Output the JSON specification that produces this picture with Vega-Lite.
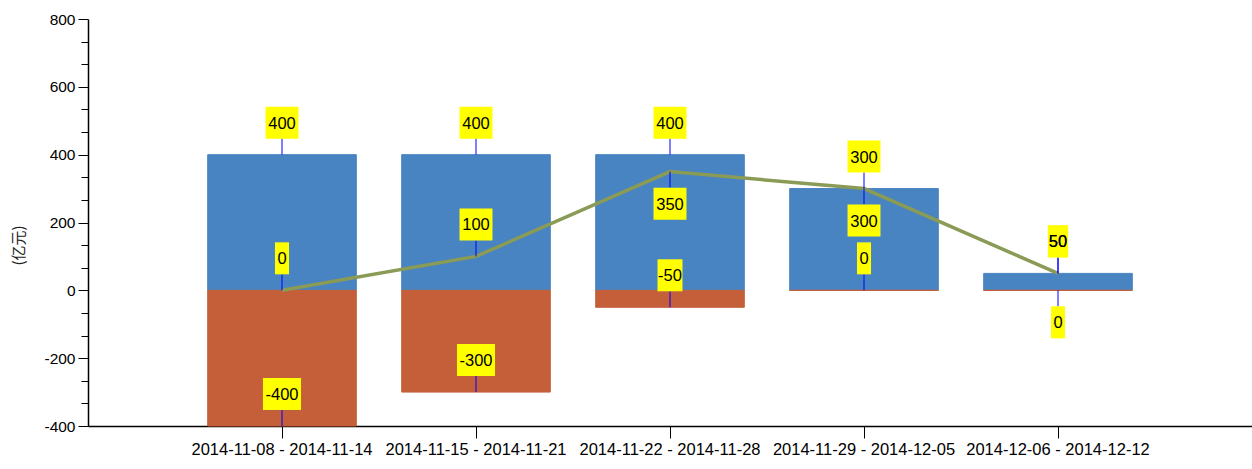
{
  "$schema": "https://vega.github.io/schema/vega-lite/v6.json",
  "width": 1164,
  "height": 407,
  "autosize": {"type": "none"},
  "padding": {"left": 88, "top": 19, "right": 0, "bottom": 43},
  "background": "white",
  "config": {"view": {"stroke": null}},
  "data": {
    "values": [
      {"week": "2014-11-08 - 2014-11-14", "series": "inflow", "value": 400},
      {"week": "2014-11-15 - 2014-11-21", "series": "inflow", "value": 400},
      {"week": "2014-11-22 - 2014-11-28", "series": "inflow", "value": 400},
      {"week": "2014-11-29 - 2014-12-05", "series": "inflow", "value": 300},
      {"week": "2014-12-06 - 2014-12-12", "series": "inflow", "value": 50},
      {"week": "2014-11-08 - 2014-11-14", "series": "outflow", "value": -400},
      {"week": "2014-11-15 - 2014-11-21", "series": "outflow", "value": -300},
      {"week": "2014-11-22 - 2014-11-28", "series": "outflow", "value": -50},
      {"week": "2014-11-29 - 2014-12-05", "series": "outflow", "value": 0},
      {"week": "2014-12-06 - 2014-12-12", "series": "outflow", "value": 0},
      {"week": "2014-11-08 - 2014-11-14", "series": "net", "value": 0},
      {"week": "2014-11-15 - 2014-11-21", "series": "net", "value": 100},
      {"week": "2014-11-22 - 2014-11-28", "series": "net", "value": 350},
      {"week": "2014-11-29 - 2014-12-05", "series": "net", "value": 300},
      {"week": "2014-12-06 - 2014-12-12", "series": "net", "value": 50}
    ]
  },
  "transform": [
    {"calculate": "(datum.series == 'net' && (datum.week == '2014-11-22 - 2014-11-28' || datum.week == '2014-11-29 - 2014-12-05')) || (datum.series == 'outflow' && datum.week == '2014-12-06 - 2014-12-12')", "as": "below"},
    {"calculate": "'' + datum.value", "as": "label"}
  ],
  "resolve": {"axis": {"y": "independent"}},
  "encoding": {
    "x": {
      "field": "week",
      "type": "nominal",
      "sort": null,
      "scale": {"paddingInner": 0.234, "paddingOuter": 0.617},
      "axis": {
        "title": null,
        "labelAngle": 0,
        "labelLimit": 0,
        "labelFont": "Liberation Sans",
        "labelFontSize": 16.5,
        "labelColor": "#000",
        "labelPadding": 3,
        "tickSize": 12,
        "tickColor": "#000",
        "domainColor": "#000",
        "domainWidth": 1.5,
        "tickWidth": 1
      }
    }
  },
  "layer": [
    {
      "transform": [{"filter": "datum.series != 'net'"}],
      "mark": {"type": "bar", "strokeWidth": 1},
      "encoding": {
        "y": {
          "field": "value",
          "type": "quantitative",
          "scale": {"domain": [-400, 800], "nice": false, "zero": false},
          "axis": {
            "orient": "left",
            "values": [-400, -200, 0, 200, 400, 600, 800],
            "labelExpr": "'' + datum.value",
            "grid": false,
            "title": "(亿元)",
            "titleFont": "Noto Sans CJK SC",
            "titleFontSize": 15,
            "titleFontWeight": "normal",
            "titleColor": "#222",
            "titleX": -70,
            "titleY": 226,
            "titleAngle": -90,
            "titleAlign": "center",
            "titleBaseline": "middle",
            "labelFont": "Liberation Sans",
            "labelFontSize": 15.5,
            "labelColor": "#000",
            "labelPadding": 3,
            "tickSize": 10,
            "tickColor": "#000",
            "domainColor": "#000",
            "domainWidth": 1.5
          }
        },
        "y2": {"datum": 0},
        "color": {
          "field": "series",
          "type": "nominal",
          "scale": {"domain": ["inflow", "outflow"], "range": ["#4883c2", "#c45f3a"]},
          "legend": null
        },
        "stroke": {
          "field": "series",
          "type": "nominal",
          "scale": {"domain": ["inflow", "outflow"], "range": ["#4883c2", "#c45f3a"]},
          "legend": null
        }
      }
    },
    {
      "transform": [{"filter": "datum.series != 'net'"}],
      "mark": {"type": "tick", "opacity": 0},
      "encoding": {
        "y": {
          "field": "value",
          "type": "quantitative",
          "axis": {
            "orient": "left",
            "values": [-333.33, -266.67, -133.33, -66.67, 66.67, 133.33, 266.67, 333.33, 466.67, 533.33, 666.67, 733.33],
            "labels": false,
            "domain": false,
            "grid": false,
            "title": null,
            "tickSize": 7,
            "tickColor": "#000"
          }
        }
      }
    },
    {
      "transform": [{"filter": "datum.series == 'net'"}],
      "mark": {"type": "line", "color": "#8a9b56", "strokeWidth": 3.5},
      "encoding": {"y": {"field": "value", "type": "quantitative", "axis": null}}
    },
    {
      "transform": [{"filter": "!datum.below"}],
      "layer": [
        {
          "mark": {"type": "rule", "color": "#0000ff", "strokeWidth": 1, "y2Offset": -16},
          "encoding": {
            "y": {"field": "value", "type": "quantitative", "axis": null},
            "y2": {"field": "value"}
          }
        },
        {
          "mark": {"type": "point", "filled": true, "opacity": 1, "color": "#ffff00", "yOffset": -32, "size": 1024},
          "encoding": {
            "y": {"field": "value", "type": "quantitative", "axis": null},
            "shape": {
              "field": "label",
              "type": "nominal",
              "legend": null,
              "scale": {
                "domain": ["0", "50", "-50", "100", "300", "350", "400", "-300", "-400"],
                "range": [
                  "M-0.44,-1H0.44V1H-0.44Z",
                  "M-0.63,-1H0.63V1H-0.63Z",
                  "M-0.78,-1H0.78V1H-0.78Z",
                  "M-1.03,-1H1.03V1H-1.03Z",
                  "M-1.03,-1H1.03V1H-1.03Z",
                  "M-1.03,-1H1.03V1H-1.03Z",
                  "M-1.03,-1H1.03V1H-1.03Z",
                  "M-1.19,-1H1.19V1H-1.19Z",
                  "M-1.19,-1H1.19V1H-1.19Z"
                ]
              }
            }
          }
        },
        {
          "mark": {"type": "text", "yOffset": -31, "font": "Liberation Sans", "fontSize": 16.5, "color": "#000", "baseline": "middle", "align": "center"},
          "encoding": {
            "y": {"field": "value", "type": "quantitative", "axis": null},
            "text": {"field": "label"}
          }
        }
      ]
    },
    {
      "transform": [{"filter": "datum.below"}],
      "layer": [
        {
          "mark": {"type": "rule", "color": "#0000ff", "strokeWidth": 1, "y2Offset": 16},
          "encoding": {
            "y": {"field": "value", "type": "quantitative", "axis": null},
            "y2": {"field": "value"}
          }
        },
        {
          "mark": {"type": "point", "filled": true, "opacity": 1, "color": "#ffff00", "yOffset": 32, "size": 1024},
          "encoding": {
            "y": {"field": "value", "type": "quantitative", "axis": null},
            "shape": {
              "field": "label",
              "type": "nominal",
              "legend": null,
              "scale": {
                "domain": ["0", "50", "-50", "100", "300", "350", "400", "-300", "-400"],
                "range": [
                  "M-0.44,-1H0.44V1H-0.44Z",
                  "M-0.63,-1H0.63V1H-0.63Z",
                  "M-0.78,-1H0.78V1H-0.78Z",
                  "M-1.03,-1H1.03V1H-1.03Z",
                  "M-1.03,-1H1.03V1H-1.03Z",
                  "M-1.03,-1H1.03V1H-1.03Z",
                  "M-1.03,-1H1.03V1H-1.03Z",
                  "M-1.19,-1H1.19V1H-1.19Z",
                  "M-1.19,-1H1.19V1H-1.19Z"
                ]
              }
            }
          }
        },
        {
          "mark": {"type": "text", "yOffset": 33, "font": "Liberation Sans", "fontSize": 16.5, "color": "#000", "baseline": "middle", "align": "center"},
          "encoding": {
            "y": {"field": "value", "type": "quantitative", "axis": null},
            "text": {"field": "label"}
          }
        }
      ]
    }
  ]
}
